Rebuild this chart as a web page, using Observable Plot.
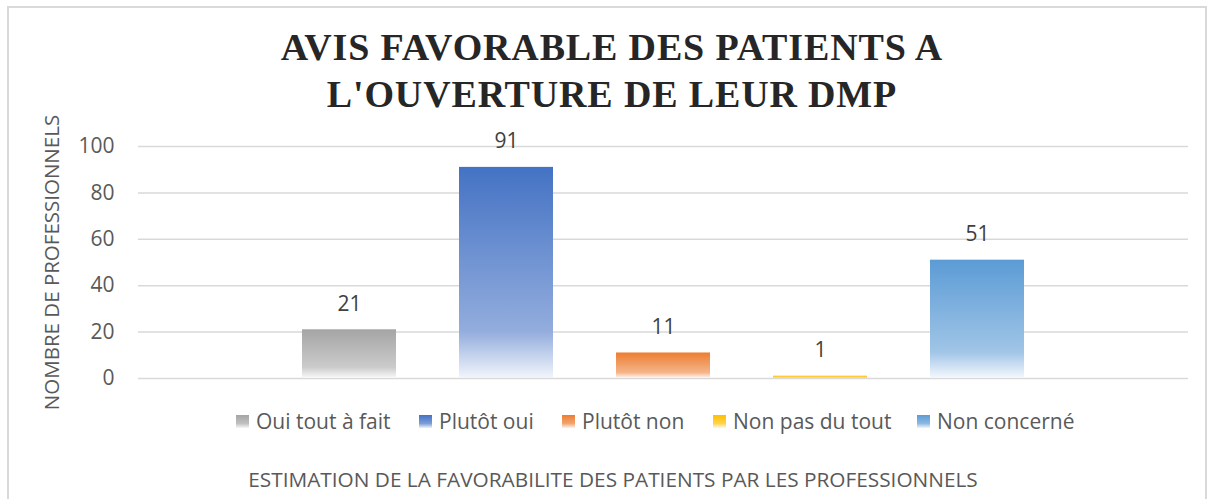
<!DOCTYPE html>
<html>
<head>
<meta charset="utf-8">
<script src="https://cdn.jsdelivr.net/npm/d3@7"></script>
<script src="https://cdn.jsdelivr.net/npm/@observablehq/plot@0.6"></script>
<style>
  html, body { margin: 0; padding: 0; background: #fff; }
  #wrap { position: relative; width: 1214px; height: 499px; overflow: hidden; font-family: "Open Sans", sans-serif; }
  #border { position: absolute; left: 7px; top: 6px; width: 1200px; height: 520px; border: 2px solid #d9d9d9; box-sizing: border-box; }
  #title { position: absolute; left: 0; top: 24px; width: 1224px; text-align: center; font-family: "Liberation Serif", serif; font-weight: bold; font-size: 38px; line-height: 47px; color: #262626; letter-spacing: 0.85px; }
  #chart { position: absolute; left: 0; top: 96px; }
  #legend { position: absolute; top: 407px; left: 0; width: 1214px; height: 28px; }
  .item { position: absolute; top: 0; display: flex; align-items: center; font-size: 21px; color: #595959; white-space: nowrap; }
  .sw { width: 13px; height: 13px; margin-right: 7px; }
  #xtitle { position: absolute; top: 465px; left: 0; width: 1226px; text-align: center; font-size: 20.8px; color: #595959; }
</style>
</head>
<body>
<div id="wrap">
  <div id="border"></div>
  <div id="title">AVIS FAVORABLE DES PATIENTS A<br>L'OUVERTURE DE LEUR DMP</div>
  <div id="chart"></div>
  <div id="legend"></div>
  <div id="xtitle"></div>
</div>
<script>
const categories = ["Oui tout à fait", "Plutôt oui", "Plutôt non", "Non pas du tout", "Non concerné"];
const values = [21, 91, 11, 1, 51];
const colors = ["#a5a5a5", "#4472c4", "#ed7d31", "#ffc000", "#5b9bd5"];
const yTicks = [0, 20, 40, 60, 80, 100];
const yLabel = "NOMBRE DE PROFESSIONNELS";
const xLabel = "ESTIMATION DE LA FAVORABILITE DES PATIENTS PAR LES PROFESSIONNELS";
const legendX = [236, 419, 562, 713, 917];

const mix = (c, t) => d3.interpolateRgb(c, "#ffffff")(t);
const data = categories.map((c, i) => ({cat: c, value: values[i], grad: `url(#grad${i})`}));

const plot = Plot.plot({
  width: 1214,
  height: 328,
  marginTop: 50,
  marginBottom: 46,
  marginLeft: 138,
  marginRight: 26,
  style: {fontFamily: "'Open Sans', sans-serif", background: "transparent", overflow: "visible"},
  x: {domain: categories, paddingInner: 0.403, paddingOuter: 1.033, axis: null},
  y: {domain: [0, 100], ticks: yTicks},
  color: {type: "identity"},
  marks: [
    Plot.gridY(yTicks, {stroke: "#d9d9d9", strokeOpacity: 1, strokeWidth: 1.5}),
    Plot.axisY(yTicks, {tickSize: 0, tickPadding: 24, fontSize: 21, fill: "#595959",
      label: yLabel, labelAnchor: "center", labelOffset: 94, labelArrow: "none"}),
    Plot.barY(data, {x: "cat", y: "value", fill: "grad"}),
    Plot.text(data, {x: "cat", y: "value", text: d => String(d.value), dy: -26, fontSize: 21, fill: "#404040"})
  ]
});

const defs = d3.select(plot).insert("defs", ":first-child");
colors.forEach((c, i) => {
  const g = defs.append("linearGradient").attr("id", `grad${i}`).attr("x1", 0).attr("y1", 0).attr("x2", 0).attr("y2", 1);
  g.append("stop").attr("offset", 0).attr("stop-color", c);
  g.append("stop").attr("offset", 0.78).attr("stop-color", mix(c, 0.42));
  g.append("stop").attr("offset", 1).attr("stop-color", mix(c, 0.93));
});
d3.select(plot).selectAll("[aria-label='y-axis label'] text").attr("font-size", 20.5).attr("fill", "#595959");
document.getElementById("chart").appendChild(plot);

const legend = document.getElementById("legend");
categories.forEach((c, i) => {
  const it = document.createElement("div");
  it.className = "item";
  it.style.left = legendX[i] + "px";
  const sw = document.createElement("div");
  sw.className = "sw";
  sw.style.background = `linear-gradient(to bottom, ${colors[i]} 0%, ${mix(colors[i], 0.3)} 65%, ${mix(colors[i], 0.9)} 100%)`;
  const t = document.createElement("span");
  t.textContent = c;
  it.appendChild(sw); it.appendChild(t);
  legend.appendChild(it);
});
document.getElementById("xtitle").textContent = xLabel;
</script>
</body>
</html>
